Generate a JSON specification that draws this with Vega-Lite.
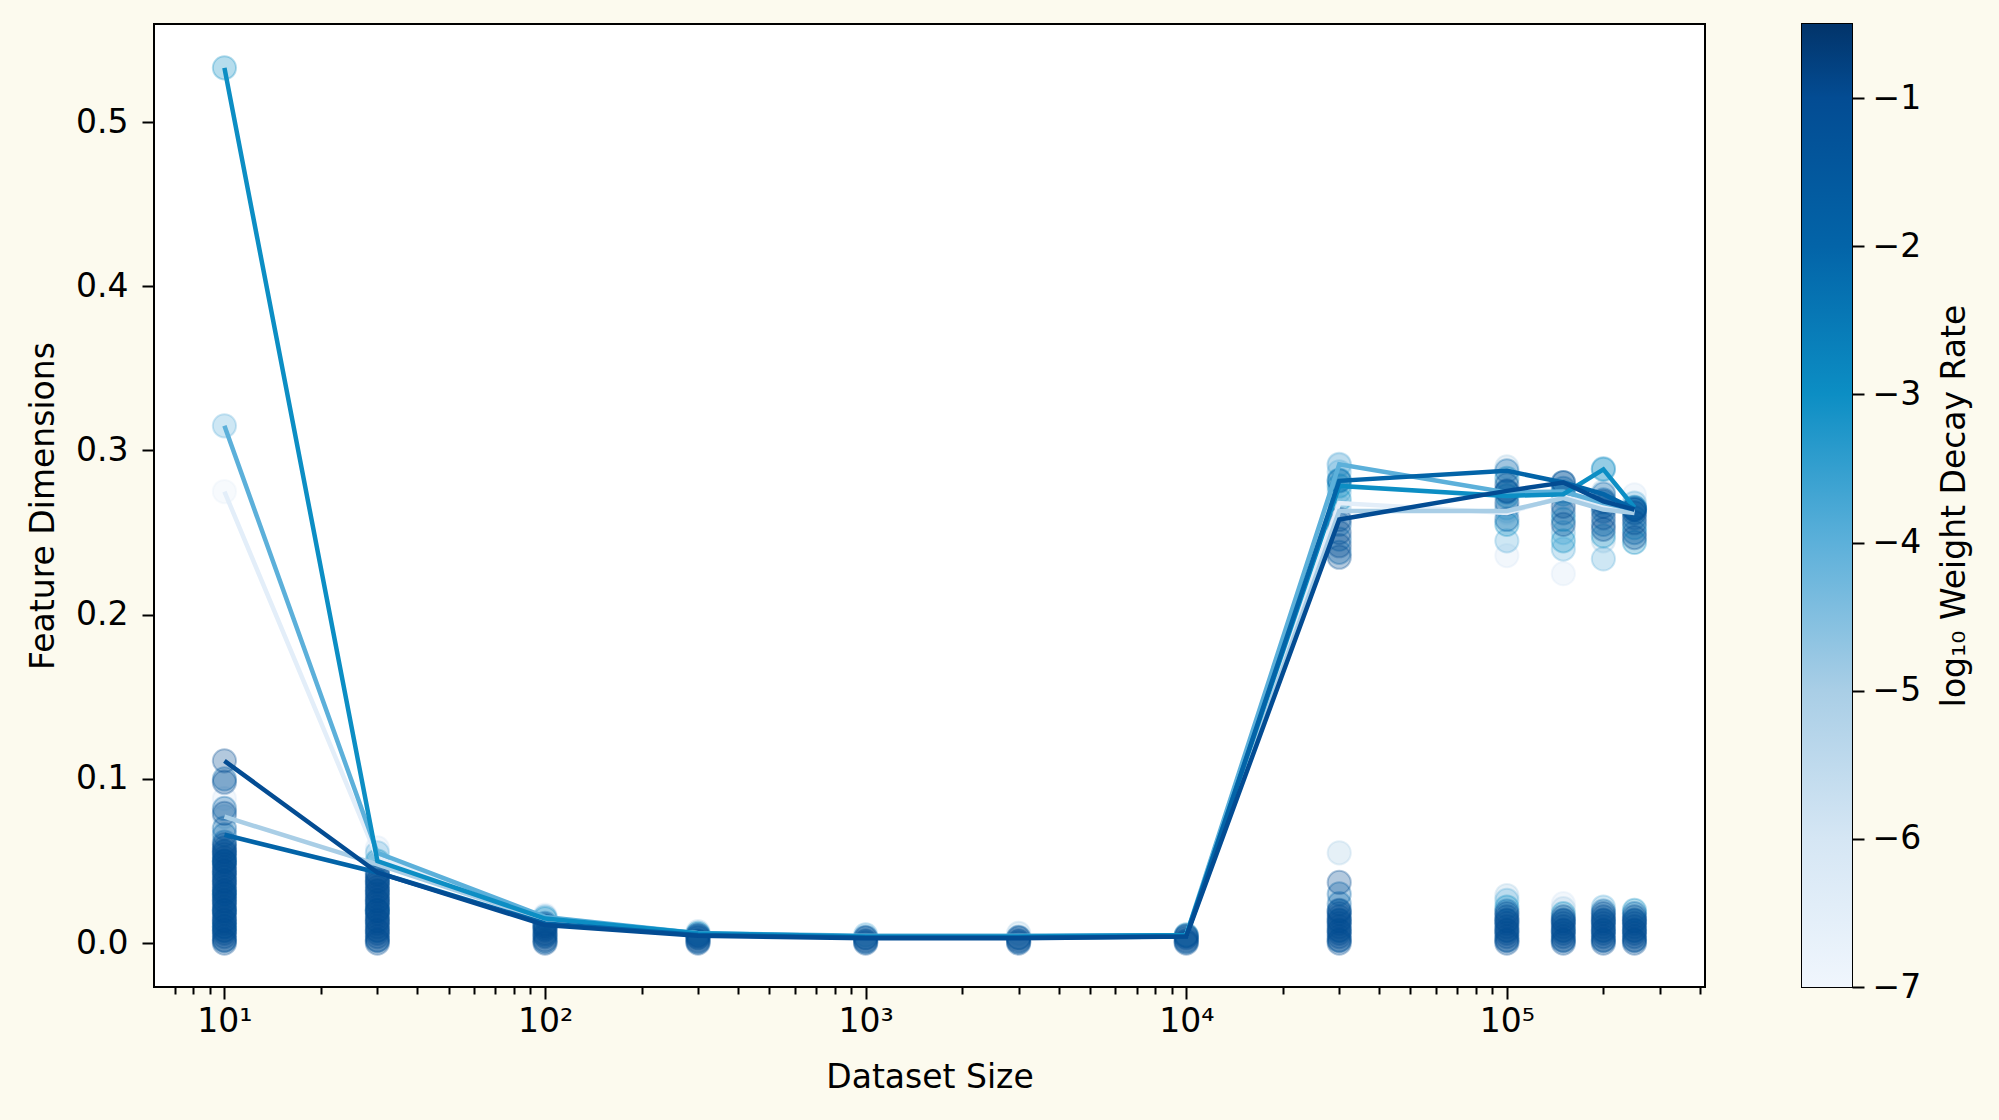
{
  "$schema": "https://vega.github.io/schema/vega-lite/v6.json",
  "background": "#fcfaee",
  "padding": {"left": 26, "top": 23, "right": 30, "bottom": 30},
  "spacing": 95,
  "datasets": {
    "pts": [
      {"n":10,"d":0,"w":-1},{"n":10,"d":0.002,"w":-1},{"n":10,"d":0.004,"w":-1},{"n":10,"d":0.006,"w":-1},{"n":10,"d":0.008,"w":-1},{"n":10,"d":0.01,"w":-1},{"n":10,"d":0.012,"w":-1},{"n":10,"d":0.014,"w":-1},{"n":10,"d":0.016,"w":-1},{"n":10,"d":0.018,"w":-1},{"n":10,"d":0.02,"w":-1},{"n":10,"d":0.022,"w":-1},{"n":10,"d":0.024,"w":-1},{"n":10,"d":0.026,"w":-1},{"n":10,"d":0.028,"w":-1},{"n":10,"d":0.03,"w":-1},{"n":10,"d":0.032,"w":-1},{"n":10,"d":0.034,"w":-1},{"n":10,"d":0.036,"w":-1},{"n":10,"d":0.038,"w":-1},{"n":10,"d":0.04,"w":-1},{"n":10,"d":0.042,"w":-1},{"n":10,"d":0.044,"w":-1},{"n":10,"d":0.046,"w":-1},{"n":10,"d":0.048,"w":-1},{"n":10,"d":0.05,"w":-1},{"n":10,"d":0.052,"w":-1},{"n":10,"d":0.054,"w":-1},{"n":10,"d":0.056,"w":-1},{"n":10,"d":0.058,"w":-1},{"n":10,"d":0.06,"w":-1},{"n":10,"d":0.111,"w":-1},{"n":10,"d":0.098,"w":-1},{"n":10,"d":0.079,"w":-1},
      {"n":10,"d":0.0015,"w":-2},{"n":10,"d":0.0075,"w":-2},{"n":10,"d":0.0135,"w":-2},{"n":10,"d":0.0195,"w":-2},{"n":10,"d":0.0255,"w":-2},{"n":10,"d":0.0315,"w":-2},{"n":10,"d":0.0375,"w":-2},{"n":10,"d":0.0435,"w":-2},{"n":10,"d":0.0495,"w":-2},{"n":10,"d":0.0555,"w":-2},{"n":10,"d":0.0615,"w":-2},{"n":10,"d":0.066,"w":-2},{"n":10,"d":0.1,"w":-2},{"n":10,"d":0.082,"w":-2},{"n":10,"d":0.07,"w":-2},
      {"n":10,"d":0.01,"w":-3},{"n":10,"d":0.03,"w":-3},{"n":10,"d":0.05,"w":-3},{"n":10,"d":0.533,"w":-3},
      {"n":10,"d":0.02,"w":-4},{"n":10,"d":0.315,"w":-4},
      {"n":10,"d":0.077,"w":-5},
      {"n":10,"d":0.088,"w":-6},{"n":10,"d":0.275,"w":-6.5},

      {"n":30,"d":0,"w":-1},{"n":30,"d":0.002,"w":-1},{"n":30,"d":0.004,"w":-1},{"n":30,"d":0.006,"w":-1},{"n":30,"d":0.008,"w":-1},{"n":30,"d":0.01,"w":-1},{"n":30,"d":0.012,"w":-1},{"n":30,"d":0.014,"w":-1},{"n":30,"d":0.016,"w":-1},{"n":30,"d":0.018,"w":-1},{"n":30,"d":0.02,"w":-1},{"n":30,"d":0.022,"w":-1},{"n":30,"d":0.024,"w":-1},{"n":30,"d":0.026,"w":-1},{"n":30,"d":0.028,"w":-1},{"n":30,"d":0.03,"w":-1},{"n":30,"d":0.032,"w":-1},{"n":30,"d":0.034,"w":-1},{"n":30,"d":0.036,"w":-1},{"n":30,"d":0.038,"w":-1},{"n":30,"d":0.04,"w":-1},{"n":30,"d":0.042,"w":-1},
      {"n":30,"d":0.0015,"w":-2},{"n":30,"d":0.0075,"w":-2},{"n":30,"d":0.0135,"w":-2},{"n":30,"d":0.0195,"w":-2},{"n":30,"d":0.0255,"w":-2},{"n":30,"d":0.0315,"w":-2},{"n":30,"d":0.0375,"w":-2},{"n":30,"d":0.043,"w":-2},
      {"n":30,"d":0.02,"w":-3},{"n":30,"d":0.05,"w":-3},
      {"n":30,"d":0.055,"w":-4},{"n":30,"d":0.048,"w":-5},{"n":30,"d":0.058,"w":-6},

      {"n":100,"d":0,"w":-1},{"n":100,"d":0.002,"w":-1},{"n":100,"d":0.004,"w":-1},{"n":100,"d":0.006,"w":-1},{"n":100,"d":0.008,"w":-1},{"n":100,"d":0.01,"w":-1},{"n":100,"d":0.011,"w":-1},
      {"n":100,"d":0.001,"w":-2},{"n":100,"d":0.005,"w":-2},{"n":100,"d":0.009,"w":-2},{"n":100,"d":0.012,"w":-2},
      {"n":100,"d":0.015,"w":-3},{"n":100,"d":0.016,"w":-4},{"n":100,"d":0.017,"w":-6},

      {"n":300,"d":0,"w":-1},{"n":300,"d":0.0015,"w":-1},{"n":300,"d":0.003,"w":-1},{"n":300,"d":0.0045,"w":-1},
      {"n":300,"d":0.00075,"w":-2},{"n":300,"d":0.00375,"w":-2},{"n":300,"d":0.005,"w":-2},
      {"n":300,"d":0.006,"w":-3},{"n":300,"d":0.007,"w":-5},

      {"n":1000,"d":0,"w":-1},{"n":1000,"d":0.0015,"w":-1},{"n":1000,"d":0.003,"w":-1},
      {"n":1000,"d":0.00075,"w":-2},{"n":1000,"d":0.0035,"w":-2},{"n":1000,"d":0.005,"w":-4},

      {"n":3000,"d":0,"w":-1},{"n":3000,"d":0.0015,"w":-1},{"n":3000,"d":0.003,"w":-1},
      {"n":3000,"d":0.00075,"w":-2},{"n":3000,"d":0.0035,"w":-2},{"n":3000,"d":0.006,"w":-5},

      {"n":10000,"d":0,"w":-1},{"n":10000,"d":0.0015,"w":-1},{"n":10000,"d":0.003,"w":-1},{"n":10000,"d":0.0045,"w":-1},
      {"n":10000,"d":0.00075,"w":-2},{"n":10000,"d":0.004,"w":-2},{"n":10000,"d":0.005,"w":-3},

      {"n":30000,"d":0,"w":-1},{"n":30000,"d":0.002,"w":-1},{"n":30000,"d":0.004,"w":-1},{"n":30000,"d":0.006,"w":-1},{"n":30000,"d":0.008,"w":-1},{"n":30000,"d":0.01,"w":-1},{"n":30000,"d":0.012,"w":-1},{"n":30000,"d":0.014,"w":-1},{"n":30000,"d":0.016,"w":-1},{"n":30000,"d":0.018,"w":-1},{"n":30000,"d":0.02,"w":-1},{"n":30000,"d":0.037,"w":-1},
      {"n":30000,"d":0.0015,"w":-2},{"n":30000,"d":0.0075,"w":-2},{"n":30000,"d":0.0135,"w":-2},{"n":30000,"d":0.0195,"w":-2},{"n":30000,"d":0.024,"w":-2},{"n":30000,"d":0.03,"w":-2},
      {"n":30000,"d":0.055,"w":-5},
      {"n":30000,"d":0.291,"w":-5},{"n":30000,"d":0.2916,"w":-4},{"n":30000,"d":0.287,"w":-4},{"n":30000,"d":0.282,"w":-3},{"n":30000,"d":0.2815,"w":-2},{"n":30000,"d":0.2784,"w":-3},{"n":30000,"d":0.275,"w":-4},{"n":30000,"d":0.27,"w":-3},{"n":30000,"d":0.266,"w":-5},{"n":30000,"d":0.263,"w":-6},{"n":30000,"d":0.258,"w":-1},{"n":30000,"d":0.255,"w":-2},{"n":30000,"d":0.25,"w":-1},{"n":30000,"d":0.246,"w":-2},{"n":30000,"d":0.242,"w":-1},{"n":30000,"d":0.238,"w":-2},{"n":30000,"d":0.235,"w":-1},

      {"n":100000,"d":0,"w":-1},{"n":100000,"d":0.002,"w":-1},{"n":100000,"d":0.004,"w":-1},{"n":100000,"d":0.006,"w":-1},{"n":100000,"d":0.008,"w":-1},{"n":100000,"d":0.01,"w":-1},{"n":100000,"d":0.012,"w":-1},{"n":100000,"d":0.014,"w":-1},{"n":100000,"d":0.016,"w":-1},{"n":100000,"d":0.018,"w":-1},
      {"n":100000,"d":0.0015,"w":-2},{"n":100000,"d":0.0075,"w":-2},{"n":100000,"d":0.0135,"w":-2},{"n":100000,"d":0.0195,"w":-2},
      {"n":100000,"d":0.022,"w":-3},{"n":100000,"d":0.026,"w":-4},{"n":100000,"d":0.029,"w":-5},
      {"n":100000,"d":0.29,"w":-5},{"n":100000,"d":0.2876,"w":-2},{"n":100000,"d":0.283,"w":-3},{"n":100000,"d":0.279,"w":-1},{"n":100000,"d":0.2754,"w":-1},{"n":100000,"d":0.275,"w":-2},{"n":100000,"d":0.2723,"w":-3},{"n":100000,"d":0.268,"w":-1},{"n":100000,"d":0.2744,"w":-4},{"n":100000,"d":0.265,"w":-4},{"n":100000,"d":0.2632,"w":-5},{"n":100000,"d":0.262,"w":-6},{"n":100000,"d":0.258,"w":-2},{"n":100000,"d":0.255,"w":-3},{"n":100000,"d":0.245,"w":-4},{"n":100000,"d":0.236,"w":-6},

      {"n":150000,"d":0,"w":-1},{"n":150000,"d":0.002,"w":-1},{"n":150000,"d":0.004,"w":-1},{"n":150000,"d":0.006,"w":-1},{"n":150000,"d":0.008,"w":-1},{"n":150000,"d":0.01,"w":-1},{"n":150000,"d":0.012,"w":-1},{"n":150000,"d":0.014,"w":-1},{"n":150000,"d":0.016,"w":-1},
      {"n":150000,"d":0.0015,"w":-2},{"n":150000,"d":0.0075,"w":-2},{"n":150000,"d":0.0135,"w":-2},
      {"n":150000,"d":0.018,"w":-3},{"n":150000,"d":0.021,"w":-5},{"n":150000,"d":0.024,"w":-6},
      {"n":150000,"d":0.2805,"w":-1},{"n":150000,"d":0.2805,"w":-2},{"n":150000,"d":0.277,"w":-2},{"n":150000,"d":0.2734,"w":-3},{"n":150000,"d":0.275,"w":-4},{"n":150000,"d":0.271,"w":-5},{"n":150000,"d":0.272,"w":-6},{"n":150000,"d":0.266,"w":-1},{"n":150000,"d":0.262,"w":-2},{"n":150000,"d":0.258,"w":-3},{"n":150000,"d":0.255,"w":-1},{"n":150000,"d":0.25,"w":-4},{"n":150000,"d":0.245,"w":-3},{"n":150000,"d":0.24,"w":-4},{"n":150000,"d":0.225,"w":-6},

      {"n":200000,"d":0,"w":-1},{"n":200000,"d":0.002,"w":-1},{"n":200000,"d":0.004,"w":-1},{"n":200000,"d":0.006,"w":-1},{"n":200000,"d":0.008,"w":-1},{"n":200000,"d":0.01,"w":-1},{"n":200000,"d":0.012,"w":-1},{"n":200000,"d":0.014,"w":-1},{"n":200000,"d":0.016,"w":-1},{"n":200000,"d":0.018,"w":-1},
      {"n":200000,"d":0.0015,"w":-2},{"n":200000,"d":0.0075,"w":-2},{"n":200000,"d":0.0135,"w":-2},{"n":200000,"d":0.0195,"w":-2},
      {"n":200000,"d":0.022,"w":-4},
      {"n":200000,"d":0.2885,"w":-3},{"n":200000,"d":0.289,"w":-4},{"n":200000,"d":0.275,"w":-5},{"n":200000,"d":0.2734,"w":-2},{"n":200000,"d":0.27,"w":-2},{"n":200000,"d":0.269,"w":-1},{"n":200000,"d":0.266,"w":-1},{"n":200000,"d":0.268,"w":-4},{"n":200000,"d":0.264,"w":-5},{"n":200000,"d":0.266,"w":-6},{"n":200000,"d":0.263,"w":-2},{"n":200000,"d":0.259,"w":-1},{"n":200000,"d":0.255,"w":-2},{"n":200000,"d":0.252,"w":-1},{"n":200000,"d":0.248,"w":-3},{"n":200000,"d":0.245,"w":-5},{"n":200000,"d":0.234,"w":-4},

      {"n":250000,"d":0,"w":-1},{"n":250000,"d":0.002,"w":-1},{"n":250000,"d":0.004,"w":-1},{"n":250000,"d":0.006,"w":-1},{"n":250000,"d":0.008,"w":-1},{"n":250000,"d":0.01,"w":-1},{"n":250000,"d":0.012,"w":-1},{"n":250000,"d":0.014,"w":-1},{"n":250000,"d":0.016,"w":-1},
      {"n":250000,"d":0.0015,"w":-2},{"n":250000,"d":0.0075,"w":-2},{"n":250000,"d":0.0135,"w":-2},{"n":250000,"d":0.018,"w":-2},
      {"n":250000,"d":0.02,"w":-3},
      {"n":250000,"d":0.273,"w":-6},{"n":250000,"d":0.268,"w":-4},{"n":250000,"d":0.2653,"w":-3},{"n":250000,"d":0.2642,"w":-2},{"n":250000,"d":0.264,"w":-1},{"n":250000,"d":0.264,"w":-4},{"n":250000,"d":0.262,"w":-5},{"n":250000,"d":0.263,"w":-6},{"n":250000,"d":0.265,"w":-2},{"n":250000,"d":0.262,"w":-1},{"n":250000,"d":0.259,"w":-2},{"n":250000,"d":0.256,"w":-1},{"n":250000,"d":0.253,"w":-3},{"n":250000,"d":0.25,"w":-2},{"n":250000,"d":0.247,"w":-1},{"n":250000,"d":0.244,"w":-3}
    ],
    "lns": [
      {"n":10,"d":0.275,"w":-6.5},{"n":30,"d":0.052,"w":-6.5},{"n":100,"d":0.015,"w":-6.5},{"n":300,"d":0.006,"w":-6.5},{"n":1000,"d":0.004,"w":-6.5},{"n":3000,"d":0.004,"w":-6.5},{"n":10000,"d":0.005,"w":-6.5},{"n":30000,"d":0.268,"w":-6.5},{"n":100000,"d":0.262,"w":-6.5},{"n":150000,"d":0.272,"w":-6.5},{"n":200000,"d":0.266,"w":-6.5},{"n":250000,"d":0.263,"w":-6.5},
      {"n":10,"d":0.077,"w":-5},{"n":30,"d":0.048,"w":-5},{"n":100,"d":0.014,"w":-5},{"n":300,"d":0.0055,"w":-5},{"n":1000,"d":0.004,"w":-5},{"n":3000,"d":0.004,"w":-5},{"n":10000,"d":0.0045,"w":-5},{"n":30000,"d":0.2632,"w":-5},{"n":100000,"d":0.2632,"w":-5},{"n":150000,"d":0.271,"w":-5},{"n":200000,"d":0.264,"w":-5},{"n":250000,"d":0.262,"w":-5},
      {"n":10,"d":0.315,"w":-4},{"n":30,"d":0.055,"w":-4},{"n":100,"d":0.016,"w":-4},{"n":300,"d":0.006,"w":-4},{"n":1000,"d":0.0045,"w":-4},{"n":3000,"d":0.0045,"w":-4},{"n":10000,"d":0.005,"w":-4},{"n":30000,"d":0.2916,"w":-4},{"n":100000,"d":0.2744,"w":-4},{"n":150000,"d":0.275,"w":-4},{"n":200000,"d":0.268,"w":-4},{"n":250000,"d":0.264,"w":-4},
      {"n":10,"d":0.533,"w":-3},{"n":30,"d":0.05,"w":-3},{"n":100,"d":0.015,"w":-3},{"n":300,"d":0.006,"w":-3},{"n":1000,"d":0.004,"w":-3},{"n":3000,"d":0.004,"w":-3},{"n":10000,"d":0.005,"w":-3},{"n":30000,"d":0.2784,"w":-3},{"n":100000,"d":0.2723,"w":-3},{"n":150000,"d":0.2734,"w":-3},{"n":200000,"d":0.2885,"w":-3},{"n":250000,"d":0.2653,"w":-3},
      {"n":10,"d":0.066,"w":-2},{"n":30,"d":0.043,"w":-2},{"n":100,"d":0.012,"w":-2},{"n":300,"d":0.005,"w":-2},{"n":1000,"d":0.0035,"w":-2},{"n":3000,"d":0.0035,"w":-2},{"n":10000,"d":0.004,"w":-2},{"n":30000,"d":0.2815,"w":-2},{"n":100000,"d":0.2876,"w":-2},{"n":150000,"d":0.2805,"w":-2},{"n":200000,"d":0.2734,"w":-2},{"n":250000,"d":0.2642,"w":-2},
      {"n":10,"d":0.111,"w":-1},{"n":30,"d":0.043,"w":-1},{"n":100,"d":0.011,"w":-1},{"n":300,"d":0.0045,"w":-1},{"n":1000,"d":0.003,"w":-1},{"n":3000,"d":0.003,"w":-1},{"n":10000,"d":0.004,"w":-1},{"n":30000,"d":0.258,"w":-1},{"n":100000,"d":0.2754,"w":-1},{"n":150000,"d":0.2805,"w":-1},{"n":200000,"d":0.269,"w":-1},{"n":250000,"d":0.264,"w":-1}
    ],
    "bar": [{"lo": -7, "hi": -0.5}]
  },
  "hconcat": [
    {
      "width": 1551,
      "height": 963,
      "layer": [
        {
          "data": {"name": "pts"},
          "mark": {"type": "circle", "size": 540, "strokeWidth": 2, "fillOpacity": 0.3, "strokeOpacity": 0.3},
          "encoding": {
            "x": {
              "field": "n", "type": "quantitative",
              "scale": {"type": "log", "domain": [6.03, 414900], "nice": false},
              "axis": {
                "values": [10, 100, 1000, 10000, 100000],
                "labelExpr": "datum.value == 10 ? '10¹' : datum.value == 100 ? '10²' : datum.value == 1000 ? '10³' : datum.value == 10000 ? '10⁴' : '10⁵'",
                "tickSize": 12, "labelPadding": 6, "title": "Dataset Size", "titlePadding": 23, "orient": "bottom"
              }
            },
            "y": {
              "field": "d", "type": "quantitative",
              "scale": {"domain": [-0.0267, 0.5597], "nice": false, "zero": false},
              "axis": {
                "values": [0, 0.1, 0.2, 0.3, 0.4, 0.5], "format": ".1f",
                "tickSize": 12, "labelPadding": 14, "title": "Feature Dimensions", "titlePadding": 15
              }
            },
            "order": {"field": "w", "type": "quantitative", "sort": "ascending"},
            "fill": {"field": "w", "type": "quantitative", "legend": null,
              "scale": {"domain": [-7, -6, -5, -4, -3, -2, -1, -0.5], "range": ["#f0f6fd", "#d5e6f4", "#a9cee6", "#5cb0da", "#0c8ec4", "#0364a8", "#034c93", "#02346a"]}},
            "stroke": {"field": "w", "type": "quantitative", "legend": null,
              "scale": {"domain": [-7, -6, -5, -4, -3, -2, -1, -0.5], "range": ["#f0f6fd", "#d5e6f4", "#a9cee6", "#5cb0da", "#0c8ec4", "#0364a8", "#034c93", "#02346a"]}}
          }
        },
        {
          "data": {"name": "lns"},
          "mark": {"type": "line", "strokeWidth": 4.5},
          "encoding": {
            "x": {
              "field": "n", "type": "quantitative",
              "axis": {
                "values": [7, 8, 9, 20, 30, 40, 50, 60, 70, 80, 90, 200, 300, 400, 500, 600, 700, 800, 900, 2000, 3000, 4000, 5000, 6000, 7000, 8000, 9000, 20000, 30000, 40000, 50000, 60000, 70000, 80000, 90000, 200000, 300000, 400000],
                "labels": false, "tickSize": 7, "title": null, "orient": "bottom"
              }
            },
            "y": {
              "field": "d", "type": "quantitative",
              "axis": {
                "values": [0, 0.1, 0.2, 0.3, 0.4, 0.5], "format": ".1f",
                "tickSize": 12, "labelPadding": 14, "title": "Feature Dimensions", "titlePadding": 15
              }
            },
            "detail": {"field": "w", "type": "quantitative"},
            "stroke": {"field": "w", "type": "quantitative", "legend": null}
          }
        }
      ],
      "resolve": {"axis": {"x": "independent"}}
    },
    {
      "width": 50,
      "height": 963,
      "data": {"name": "bar"},
      "mark": {
        "type": "rect", "x": 0, "x2": "width",
        "fill": {
          "gradient": "linear", "x1": 0, "y1": 1, "x2": 0, "y2": 0,
          "stops": [
            {"offset": 0, "color": "#f0f6fd"},
            {"offset": 0.1538, "color": "#d5e6f4"},
            {"offset": 0.3077, "color": "#a9cee6"},
            {"offset": 0.4615, "color": "#5cb0da"},
            {"offset": 0.6154, "color": "#0c8ec4"},
            {"offset": 0.7692, "color": "#0364a8"},
            {"offset": 0.9231, "color": "#034c93"},
            {"offset": 1, "color": "#02346a"}
          ]
        }
      },
      "encoding": {
        "y": {
          "field": "lo", "type": "quantitative",
          "scale": {"domain": [-7, -0.5], "nice": false, "zero": false},
          "axis": {
            "orient": "right", "values": [-7, -6, -5, -4, -3, -2, -1],
            "tickSize": 12, "labelPadding": 8,
            "title": "log₁₀ Weight Decay Rate", "titleAngle": 270, "titleBaseline": "top", "titlePadding": 18
          }
        },
        "y2": {"field": "hi"}
      }
    }
  ],
  "config": {
    "font": "DejaVu Sans",
    "view": {"stroke": "#000000", "strokeWidth": 2, "fill": "#ffffff"},
    "axis": {
      "domain": false, "grid": false,
      "ticks": true, "tickColor": "#000000", "tickWidth": 2,
      "labelFont": "DejaVu Sans", "labelFontSize": 33, "labelColor": "#000000",
      "titleFont": "DejaVu Sans", "titleFontSize": 33, "titleColor": "#000000", "titleFontWeight": "normal"
    }
  }
}
